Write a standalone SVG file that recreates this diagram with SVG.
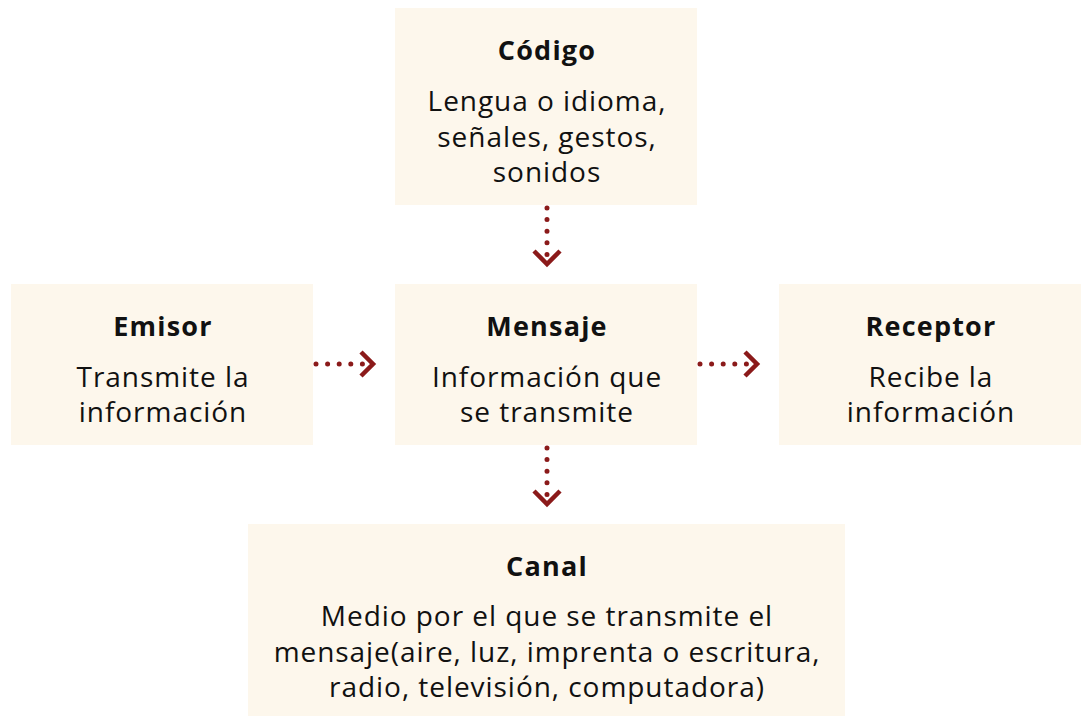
<svg xmlns="http://www.w3.org/2000/svg" width="1081" height="716" viewBox="0 0 1081 716">
<style>
.box{fill:#fdf7ec}
.t{font-family:"Open Sans","Noto Sans",sans-serif;font-weight:700;font-size:27px;letter-spacing:1.2px;fill:#111;text-anchor:middle}
.b{font-family:"Open Sans","Noto Sans",sans-serif;font-weight:400;font-size:28px;letter-spacing:0.95px;fill:#111;text-anchor:middle}
.dot{stroke:#8b1a1a;stroke-width:5;stroke-linecap:round;stroke-dasharray:0 11.6;fill:none}
.chev{stroke:#8b1a1a;stroke-width:4.5;fill:none;stroke-linejoin:miter}
</style>
<rect width="1081" height="716" fill="#fff"/>
<g id="codigo">
<rect class="box" x="395" y="8" width="302" height="197"/>
<text class="t" x="547" y="60">Código</text>
<text class="b" x="547" y="111">Lengua o idioma,</text>
<text class="b" x="547" y="147">señales, gestos,</text>
<text class="b" x="547" y="182">sonidos</text>
</g>
<g id="emisor">
<rect class="box" x="11" y="284" width="302" height="161"/>
<text class="t" x="163" y="336">Emisor</text>
<text class="b" x="163" y="387">Transmite la</text>
<text class="b" x="163" y="422">información</text>
</g>
<g id="mensaje">
<rect class="box" x="395" y="284" width="302" height="161"/>
<text class="t" x="547" y="336">Mensaje</text>
<text class="b" x="547" y="387">Información que</text>
<text class="b" x="547" y="422">se transmite</text>
</g>
<g id="receptor">
<rect class="box" x="779" y="284" width="302" height="161"/>
<text class="t" x="931" y="336">Receptor</text>
<text class="b" x="931" y="387">Recibe la</text>
<text class="b" x="931" y="422">información</text>
</g>
<g id="canal">
<rect class="box" x="248" y="524" width="597" height="192"/>
<text class="t" x="547" y="576">Canal</text>
<text class="b" x="547" y="626">Medio por el que se transmite el</text>
<text class="b" x="547" y="662">mensaje(aire, luz, imprenta o escritura,</text>
<text class="b" x="547" y="697">radio, televisión, computadora)</text>
</g>
<g id="connectors">
<path class="dot" d="M547 208V255"/>
<path class="chev" d="M534 251L547 264L560 251"/>
<path class="dot" d="M547 448V495"/>
<path class="chev" d="M534 491L547 504L560 491"/>
<path class="dot" d="M316 364H363"/>
<path class="chev" d="M361 352L373 364L361 376"/>
<path class="dot" d="M700 364H747"/>
<path class="chev" d="M745 352L757 364L745 376"/>
</g>
</svg>
